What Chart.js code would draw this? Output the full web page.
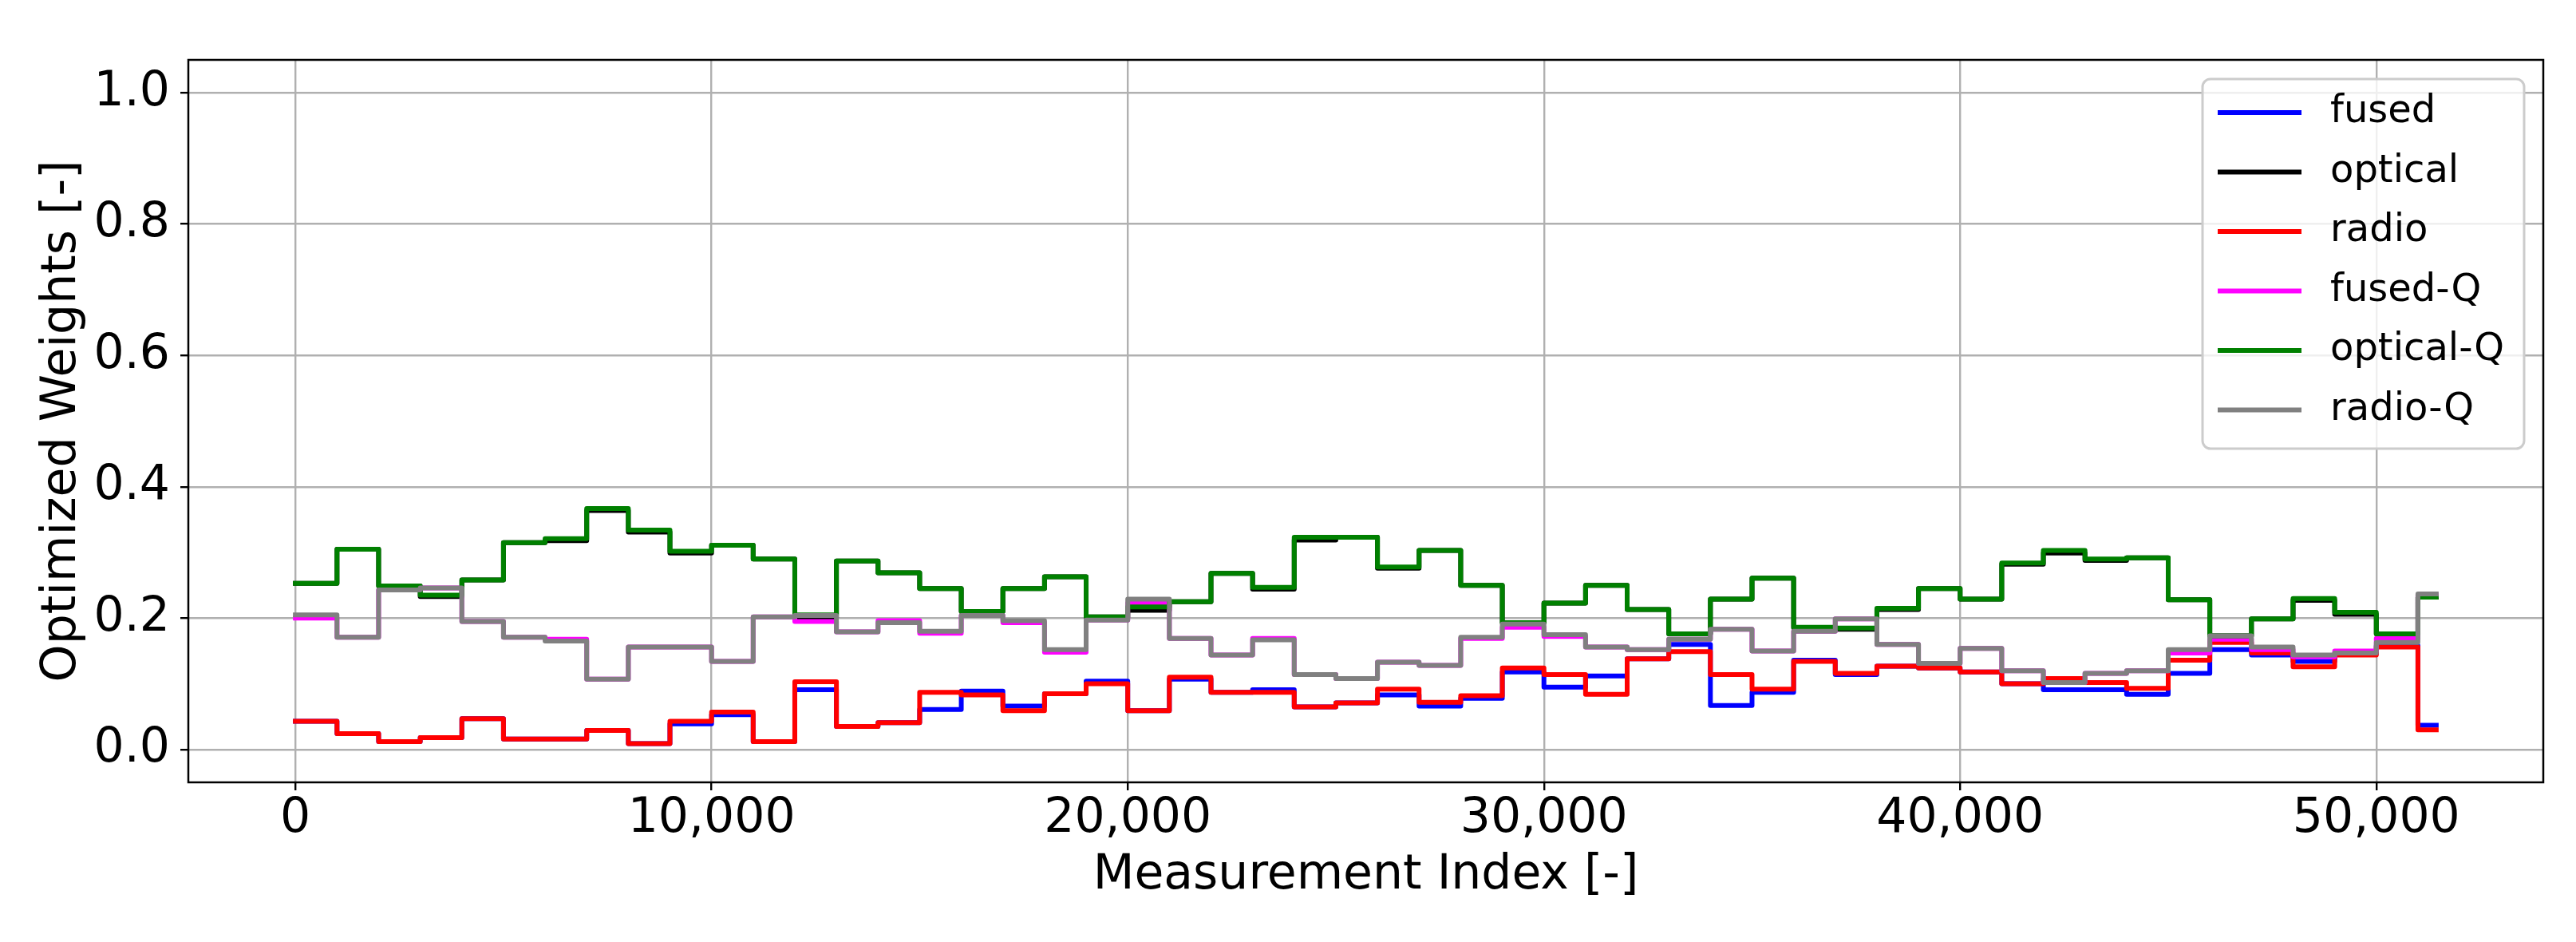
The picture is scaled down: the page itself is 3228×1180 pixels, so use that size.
<!DOCTYPE html>
<html>
<head>
<meta charset="utf-8">
<script src="https://cdn.jsdelivr.net/npm/chart.js@4.4.0/dist/chart.umd.min.js"></script>
<style>
  html, body { margin: 0; padding: 0; background: #fff; }
  #wrap { width: 3228px; height: 1180px; }
</style>
</head>
<body>
<div id="wrap"><canvas id="weightsChart" width="3228" height="1180"></canvas></div>
<script>
// step start positions (last one closes the final step)
const measurementIndex = [
  0, 1000, 2000, 3000, 4000, 5000, 6000, 7000, 8000, 9000,
  10000, 11000, 12000, 13000, 14000, 15000, 16000, 17000, 18000, 19000,
  20000, 21000, 22000, 23000, 24000, 25000, 26000, 27000, 28000, 29000,
  30000, 31000, 32000, 33000, 34000, 35000, 36000, 37000, 38000, 39000,
  40000, 41000, 42000, 43000, 44000, 45000, 46000, 47000, 48000, 49000,
  50000, 51000, 51440
];

const fused = [
  0.043, 0.024, 0.012, 0.018, 0.047, 0.016, 0.016, 0.029, 0.009, 0.039,
  0.053, 0.012, 0.091, 0.035, 0.041, 0.061, 0.089, 0.066, 0.085, 0.104,
  0.059, 0.107, 0.087, 0.091, 0.065, 0.071, 0.083, 0.066, 0.078, 0.118,
  0.095, 0.112, 0.138, 0.160, 0.067, 0.087, 0.136, 0.114, 0.127, 0.124,
  0.118, 0.100, 0.091, 0.091, 0.084, 0.116, 0.152, 0.144, 0.134, 0.146,
  0.158, 0.037, 0.037
];

const optical = [
  0.253, 0.305, 0.249, 0.233, 0.258, 0.315, 0.318, 0.364, 0.331, 0.299,
  0.311, 0.290, 0.201, 0.287, 0.269, 0.245, 0.210, 0.245, 0.263, 0.202,
  0.212, 0.225, 0.268, 0.244, 0.319, 0.323, 0.276, 0.303, 0.250, 0.193,
  0.223, 0.250, 0.213, 0.176, 0.229, 0.261, 0.185, 0.183, 0.213, 0.245,
  0.229, 0.282, 0.299, 0.288, 0.292, 0.228, 0.173, 0.199, 0.227, 0.206,
  0.176, 0.232, 0.232
];

const radio = [
  0.043, 0.024, 0.012, 0.018, 0.047, 0.016, 0.016, 0.029, 0.009, 0.043,
  0.057, 0.012, 0.103, 0.035, 0.041, 0.087, 0.083, 0.059, 0.085, 0.100,
  0.059, 0.110, 0.087, 0.087, 0.065, 0.071, 0.092, 0.072, 0.082, 0.124,
  0.114, 0.084, 0.138, 0.149, 0.114, 0.092, 0.134, 0.116, 0.127, 0.124,
  0.118, 0.100, 0.108, 0.102, 0.093, 0.136, 0.163, 0.147, 0.126, 0.144,
  0.156, 0.030, 0.030
];

const fusedQ = [
  0.200, 0.171, 0.243, 0.246, 0.195, 0.171, 0.168, 0.107, 0.156, 0.156,
  0.134, 0.202, 0.195, 0.179, 0.196, 0.177, 0.204, 0.193, 0.148, 0.197,
  0.223, 0.169, 0.144, 0.169, 0.114, 0.108, 0.133, 0.128, 0.169, 0.186,
  0.172, 0.156, 0.152, 0.168, 0.183, 0.150, 0.180, 0.199, 0.160, 0.131,
  0.154, 0.120, 0.102, 0.116, 0.120, 0.147, 0.168, 0.152, 0.141, 0.150,
  0.169, 0.235, 0.235
];

const opticalQ = [
  0.253, 0.305, 0.249, 0.235, 0.258, 0.315, 0.321, 0.367, 0.334, 0.302,
  0.311, 0.290, 0.205, 0.287, 0.269, 0.245, 0.210, 0.245, 0.263, 0.202,
  0.217, 0.225, 0.268, 0.247, 0.323, 0.323, 0.278, 0.303, 0.250, 0.193,
  0.223, 0.250, 0.213, 0.176, 0.229, 0.261, 0.186, 0.185, 0.215, 0.245,
  0.229, 0.284, 0.303, 0.290, 0.292, 0.228, 0.173, 0.199, 0.230, 0.209,
  0.176, 0.232, 0.232
];

const radioQ = [
  0.205, 0.171, 0.243, 0.246, 0.195, 0.171, 0.165, 0.107, 0.156, 0.156,
  0.134, 0.202, 0.204, 0.179, 0.193, 0.180, 0.204, 0.196, 0.152, 0.197,
  0.229, 0.169, 0.144, 0.167, 0.114, 0.108, 0.133, 0.128, 0.171, 0.191,
  0.175, 0.156, 0.152, 0.168, 0.183, 0.150, 0.180, 0.199, 0.160, 0.131,
  0.154, 0.120, 0.102, 0.116, 0.120, 0.152, 0.173, 0.156, 0.144, 0.147,
  0.163, 0.237, 0.237
];

const seriesLabels = ['fused', 'optical', 'radio', 'fused-Q', 'optical-Q', 'radio-Q'];
const seriesValues = [fused, optical, radio, fusedQ, opticalQ, radioQ];
const seriesColors = ['#0000ff', '#000000', '#ff0000', '#ff00ff', '#008000', '#808080'];

const xTicks = [0, 10000, 20000, 30000, 40000, 50000];
const yTicks = [0.0, 0.2, 0.4, 0.6, 0.8, 1.0];

Chart.defaults.font.family = '"DejaVu Sans", sans-serif';
Chart.defaults.color = '#000';

// matplotlib-like 5% x margins
const xFirst = measurementIndex[0];
const xLast = measurementIndex[measurementIndex.length - 1];
const xPad = (xLast - xFirst) * 0.05;

// black frame round the plot area
const frame = {
  id: 'frame',
  afterDatasetsDraw(chart) {
    const { ctx, chartArea: a } = chart;
    ctx.save();
    ctx.strokeStyle = '#000';
    ctx.lineWidth = 2.5;
    ctx.strokeRect(a.left, a.top, a.right - a.left, a.bottom - a.top);
    ctx.restore();
  }
};

// legend box in the upper right corner, like matplotlib
const legendBox = {
  id: 'legendBox',
  afterDraw(chart) {
    const { ctx, chartArea } = chart;
    const fontSize = 48;
    ctx.save();
    ctx.font = fontSize + 'px "DejaVu Sans"';
    const sets = chart.data.datasets;
    const textW = Math.max(...sets.map(d => ctx.measureText(d.label).width));
    const padL = 19, handle = 105, gap = 36, padR = 25, rowH = 74.5, firstRow = 42, padB = 48.5;
    const w = padL + handle + gap + textW + padR;
    const h = firstRow + rowH * (sets.length - 1) + padB;
    const x = chartArea.right - 24 - w;
    const y = chartArea.top + 24;

    ctx.beginPath();
    ctx.roundRect(x, y, w, h, 10);
    ctx.fillStyle = 'rgba(255,255,255,0.8)';
    ctx.fill();
    ctx.strokeStyle = '#cccccc';
    ctx.lineWidth = 3;
    ctx.stroke();

    sets.forEach((d, i) => {
      const ry = y + firstRow + i * rowH;
      ctx.beginPath();
      ctx.moveTo(x + padL, ry);
      ctx.lineTo(x + padL + handle, ry);
      ctx.strokeStyle = d.borderColor;
      ctx.lineWidth = 6;
      ctx.stroke();
      ctx.fillStyle = '#000';
      ctx.textAlign = 'left';
      ctx.textBaseline = 'middle';
      ctx.fillText(d.label, x + padL + handle + gap, ry);
    });
    ctx.restore();
  }
};

const ctx = document.getElementById('weightsChart');

new Chart(ctx, {
  type: 'line',
  data: {
    datasets: seriesLabels.map((label, s) => ({
      label,
      data: measurementIndex.map((x, i) => ({ x, y: seriesValues[s][i] })),
      borderColor: seriesColors[s],
      backgroundColor: seriesColors[s],
      borderWidth: 6,
      borderCapStyle: 'square',
      borderJoinStyle: 'round',
      stepped: 'before',
      pointRadius: 0,
      pointHoverRadius: 0,
      fill: false,
      // later series are painted over earlier ones
      order: seriesLabels.length - s
    }))
  },
  options: {
    responsive: false,
    animation: false,
    devicePixelRatio: 1,
    layout: {
      padding: { top: 75, right: 41, left: 0, bottom: 0 }
    },
    plugins: {
      legend: { display: false },
      tooltip: { enabled: false }
    },
    scales: {
      x: {
        type: 'linear',
        position: 'bottom',
        min: xFirst - xPad,
        max: xLast + xPad,
        afterFit: (scale) => { scale.height = 200; },
        afterBuildTicks: (scale) => { scale.ticks = xTicks.map(v => ({ value: v })); },
        border: { display: false },
        grid: {
          color: '#b0b0b0',
          lineWidth: 2.4,
          tickColor: '#000',
          tickLength: 10,
          tickWidth: 2.4
        },
        ticks: {
          maxRotation: 0,
          autoSkip: false,
          padding: 0,
          color: '#000',
          font: { size: 60 },
          callback: (v) => Number(v).toLocaleString('en-US')
        },
        title: {
          display: true,
          text: 'Measurement Index [-]',
          color: '#000',
          font: { size: 60 },
          padding: { top: 0, bottom: 47 }
        }
      },
      y: {
        type: 'linear',
        min: -0.05,
        max: 1.05,
        afterFit: (scale) => { scale.width = 236; },
        afterBuildTicks: (scale) => { scale.ticks = yTicks.map(v => ({ value: v })); },
        border: { display: false },
        grid: {
          color: '#b0b0b0',
          lineWidth: 2.4,
          tickColor: '#000',
          tickLength: 10,
          tickWidth: 2.4
        },
        ticks: {
          padding: 13,
          color: '#000',
          font: { size: 60 },
          callback: (v) => Number(v).toFixed(1)
        },
        title: {
          display: true,
          text: 'Optimized Weights [-]',
          color: '#000',
          font: { size: 60 },
          padding: { top: 42, bottom: 0 }
        }
      }
    }
  },
  plugins: [frame, legendBox]
});
</script>
</body>
</html>
